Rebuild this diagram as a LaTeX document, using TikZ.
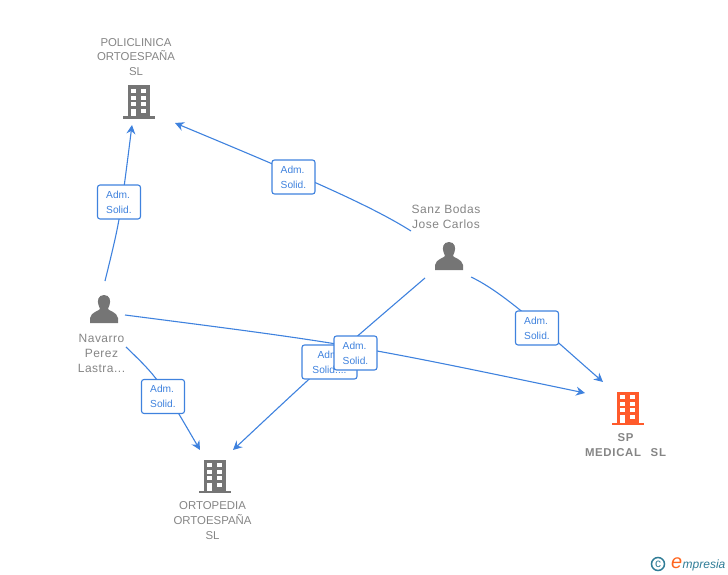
\documentclass[tikz,border=0pt]{standalone}
\usepackage{fontspec}
\setmainfont{Liberation Sans}
\usetikzlibrary{arrows.meta}
\definecolor{lnk}{HTML}{3F82DE}
\definecolor{txtgray}{HTML}{858585}
\definecolor{icn}{HTML}{757575}
\definecolor{org}{HTML}{FF5A2B}
\definecolor{logoteal}{HTML}{2F7C96}
\newfontfamily\spaced[LetterSpace=4]{Liberation Sans}
\newfontfamily\spacedb[LetterSpace=6]{Liberation Sans Bold}
\tikzset{
  x=1pt,y=-1pt,
  linkarrow/.style={draw=lnk,line width=1.1pt,-{Stealth[length=9pt,width=9pt,inset=3pt]}},
  lab/.style={draw=lnk,fill=white,rounded corners=2.5pt,line width=1.1pt,font=\fontsize{10.2}{15}\selectfont,text=lnk,align=left,minimum width=43pt,minimum height=34pt,inner sep=0pt,execute at begin node={\rule{0pt}{10pt}}},
  pname/.style={font=\fontsize{11.4}{14.7}\selectfont,text=txtgray,align=center,inner sep=0pt},
  pers/.style={font=\fontsize{12}{15}\selectfont\spaced,text=txtgray,align=center,inner sep=0pt},
  cname/.style={font=\fontsize{11.4}{15}\selectfont\spacedb,text=txtgray,align=center,inner sep=0pt},
  pics/bld/.style={code={
    \fill[#1] (-11,-16.5) rectangle (11,14.5);
    \fill[#1] (-16,14.5) rectangle (16,17);
    \foreach \yy in {-12.7,-6.2,0.3}{\fill[white] (-7.8,\yy) rectangle (-2.8,\yy+4);\fill[white] (2.2,\yy) rectangle (7.2,\yy+4);}
    \fill[white] (-7.8,7) rectangle (-2.8,14.5);\fill[white] (2.2,7) rectangle (7.2,11);
  }},
  pics/psn/.style={code={
    \fill[icn] (0,-15) .. controls (-6,-15) and (-7,-9) .. (-5.5,-5) .. controls (-5,-3) and (-4,-2) .. (-4,-1)
      .. controls (-5,1) and (-13,2) .. (-14,8) -- (-14,13) -- (14,13) -- (14,8)
      .. controls (13,2) and (5,1) .. (4,-1) .. controls (4,-2) and (5,-3) .. (5.5,-5) .. controls (7,-9) and (6,-15) .. (0,-15) -- cycle;
  }},
}
\begin{document}
\begin{tikzpicture}
\useasboundingbox (0,0) rectangle (728,575);
% end points of the connectors
\coordinate (sanzA) at (411,231);
\coordinate (poliA) at (175,123);
\coordinate (navA) at (105,281);
\coordinate (poliB) at (132,125);
\coordinate (navB) at (126,347);
\coordinate (ortoA) at (200,450);
\coordinate (navC) at (125,315);
\coordinate (spA) at (585,393);
\coordinate (sanzB) at (425,278);
\coordinate (ortoB) at (233,450);
\coordinate (sanzC) at (471,277);
\coordinate (spB) at (603,382);
% connectors
\draw[linkarrow] (sanzA) .. controls (370,205) and (300,175) .. (poliA);
\draw[linkarrow] (navA) .. controls (120,220) .. (poliB);
\draw[linkarrow] (navB) .. controls (158,378) .. (ortoA);
\draw[linkarrow] (navC) .. controls (350,344) .. (spA);
\draw[linkarrow] (sanzB) .. controls (327,362) .. (ortoB);
\draw[linkarrow] (sanzC) .. controls (505,293) and (548,334) .. (spB);
% labels
\node[lab] (l1) at (293.5,177) {Adm.\\Solid.};
\node[lab] (l2) at (119,202) {Adm.\\Solid.};
\node[lab] (l3) at (163,396.5) {Adm.\\Solid.};
\node[lab] (l4) at (537,328) {Adm.\\Solid.};
\node[lab,minimum width=55pt,align=center] (l5) at (329.5,362) {Adm.\\Solid....};
\node[lab] (l6) at (355.5,353) {Adm.\\Solid.};
% icons
\pic at (138.5,102) {bld=icn};
\pic at (214.5,476) {bld=icn};
\pic at (627.5,408) {bld=org};
\pic at (449,257) {psn};
\pic at (104,310) {psn};
% names
\node[pname] (poli) at (136,57) {POLICLINICA\\ORTOESPAÑA\\SL};
\node[pname] (orto) at (212.5,520.5) {ORTOPEDIA\\ORTOESPAÑA\\SL};
\node[cname] (sp) at (625.5,445) {SP\\MEDICAL\hspace{0.85em}SL};
\node[pers] (sanz) at (446,217) {Sanz Bodas\\Jose Carlos};
\node[pers] (nav) at (101.5,353) {Navarro\\Perez\\Lastra...};
% logo
\node[circle,draw=logoteal,line width=1.5pt,minimum size=13pt,inner sep=0pt,text=logoteal,font=\fontsize{12}{12}\selectfont] (copy) at (658,564) {c};
\node[anchor=base west,inner sep=0pt,text=org!70!orange,font=\fontsize{20}{20}\selectfont\itshape] (elogo) at (671,568.5) {e};
\node[anchor=base west,inner sep=0pt,text=logoteal,font=\fontsize{12}{12}\selectfont\itshape] (rest) at (682.5,568) {mpresia};
\end{tikzpicture}
\end{document}
